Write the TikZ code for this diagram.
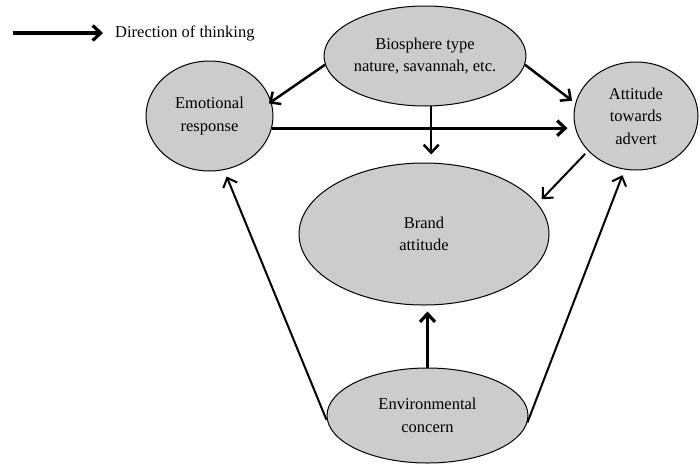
\documentclass[tikz,border=0pt]{standalone}
\usepackage{fontspec}
\setmainfont{Liberation Serif}
\usetikzlibrary{shapes.geometric,arrows.meta}
\definecolor{ellfill}{RGB}{204,204,204}
\begin{document}
\begin{tikzpicture}[x=1pt,y=-1pt,
  txt/.style={font=\fontsize{16.5}{22.5}\selectfont},
  ell/.style={ellipse, draw=black, line width=1pt, fill=ellfill, inner sep=0pt, align=center, txt},
  arrA/.style={line width=2pt, -{Straight Barb[length=8pt,width=15pt]}},
  arrB/.style={line width=2.5pt, -{Straight Barb[length=8pt,width=15pt]}},
  arrC/.style={line width=3.2pt, -{Straight Barb[length=8pt,width=15pt]}}
]
\useasboundingbox (0,0) rectangle (700,466);

\node[ell, minimum width=202pt, minimum height=100pt] (bio) at (425,56) {Biosphere type\\nature, savannah, etc.};
\node[ell, minimum width=127pt, minimum height=110pt] (emo) at (209.5,116) {Emotional\\response};
\node[ell, minimum width=124pt, minimum height=108pt] (att) at (636,116) {Attitude\\towards\\advert};
\node[ell, minimum width=250pt, minimum height=142pt] (brand) at (424,234) {Brand\\attitude};
\node[ell, minimum width=201pt, minimum height=95pt] (env) at (427.5,415.5) {Environmental\\concern};

% legend
\coordinate (l1) at (13,33);
\node[txt, anchor=west, inner sep=0pt] (leg) at (115,33) {Direction of thinking};
\draw[arrC] (l1) -- (l1 -| leg.west) [shorten >=12pt];

% connectors
\draw[arrB, shorten >=-3pt] (bio.185) -- (emo.13);
\draw[arrB, shorten >=4pt] (bio.355) -- (att.168);
\draw[arrB, shorten >=8pt] (bio.277) -- (bio.277 |- brand.north);
\draw[arrC, shorten >=6pt] (emo.349) -- (emo.349 -| att.west);
\draw[arrA, shorten <=4pt, shorten >=6pt] (att.216) -- (brand.15);
\draw[arrA, shorten <=3pt, shorten >=7pt] (env.184) -- (emo.285);
\draw[arrA, shorten >=6pt] (env.356) -- (att.258);
\draw[arrC, shorten >=6pt] (env.north) -- (env.north |- brand.south);
\end{tikzpicture}
\end{document}
